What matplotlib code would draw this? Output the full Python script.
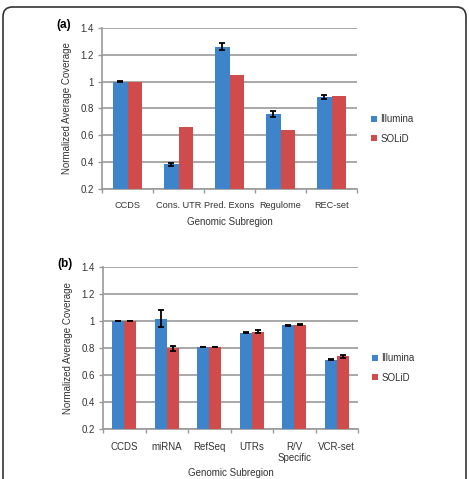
import matplotlib
matplotlib.use("Agg")
import matplotlib.pyplot as plt
import numpy as np
from matplotlib.patches import FancyBboxPatch

plt.rcParams['font.family'] = ['Liberation Sans', 'DejaVu Sans']

# Panel (a)
cats_a = ["CCDS", "Cons. UTR", "Pred. Exons", "Regulome", "REC-set"]
illumina_a = [1.0, 0.383, 1.262, 0.758, 0.883]
illumina_a_err = [0.004, 0.008, 0.027, 0.022, 0.014]
solid_a = [1.0, 0.665, 1.052, 0.640, 0.893]

# Panel (b)
cats_b = ["CCDS", "miRNA", "RefSeq", "UTRs", "R/V\nSpecific", "VCR-set"]
illumina_b = [1.0, 1.018, 0.808, 0.912, 0.967, 0.714]
illumina_b_err = [0.003, 0.063, 0.003, 0.004, 0.004, 0.003]
solid_b = [1.0, 0.798, 0.806, 0.922, 0.974, 0.739]
solid_b_err = [0.002, 0.020, 0.002, 0.008, 0.005, 0.010]

yticks = [0.2, 0.4, 0.6, 0.8, 1.0, 1.2, 1.4]
ytick_labels = ["0.2", "0.4", "0.6", "0.8", "1", "1.2", "1.4"]

BLUE = "#3E84CB"
RED = "#D04B4B"
GRID = "#9a9a9a"
TXT = "#333333"

fig = plt.figure(figsize=(4.69, 4.79), dpi=100)

def draw(ax, cats, ill, ill_err, sol, sol_err, label, leg_y, xfs):
    x = np.arange(len(cats))
    w = 0.28
    ax.bar(x - w/2, np.array(ill) - 0.2, w, bottom=0.2, color=BLUE, zorder=3, label="Illumina")
    ax.bar(x + w/2, np.array(sol) - 0.2, w, bottom=0.2, color=RED, zorder=3, label="SOLiD")
    ax.errorbar(x - w/2, ill, yerr=ill_err, fmt='none', ecolor='black', elinewidth=1.3,
                capsize=2.5, capthick=1.3, zorder=4)
    if sol_err is not None:
        ax.errorbar(x + w/2, sol, yerr=sol_err, fmt='none', ecolor='black', elinewidth=1.3,
                    capsize=2.5, capthick=1.3, zorder=4)
    ax.set_xlim(-0.5, len(cats) - 0.5)
    ax.set_ylim(0.2, 1.4)
    ax.set_yticks(yticks)
    ax.set_yticklabels(ytick_labels)
    ax.set_xticks(x)
    ax.set_xticklabels(cats, fontsize=xfs, color=TXT, linespacing=1.15)
    ax.set_xticks(np.arange(len(cats) + 1) - 0.5, minor=True)
    ax.tick_params(axis='x', which='major', length=0, pad=9)
    ax.tick_params(axis='x', which='minor', length=3, color=GRID, width=1)
    ax.tick_params(axis='y', length=3, color=GRID, width=1, labelsize=7, labelcolor=TXT, pad=3)
    ax.yaxis.grid(True, color=GRID, linewidth=1.2, zorder=0)
    ax.set_axisbelow(True)
    for s in ['top', 'right']:
        ax.spines[s].set_visible(False)
    for s in ['left', 'bottom']:
        ax.spines[s].set_color(GRID)
        ax.spines[s].set_linewidth(1.2)
    ax.set_ylabel("Normalized Average Coverage", fontsize=7, color=TXT, labelpad=6)
    ax.set_xlabel("Genomic Subregion", fontsize=7, color=TXT, labelpad=4)
    ax.legend(loc='center left', bbox_to_anchor=(1.02, leg_y), frameon=False,
              fontsize=7, handlelength=0.6, handleheight=0.6, handletextpad=0.4,
              labelspacing=1.0, labelcolor=TXT)
    ax.text(-0.12, 1.02, label, transform=ax.transAxes, fontsize=8.5, fontweight='bold',
            ha='right', va='center', color='black')

ax1 = fig.add_axes([102/469, 1 - 189/479, 255/469, 161/479])
draw(ax1, cats_a, illumina_a, illumina_a_err, solid_a, None, "(a)", 0.373, 6.6)
ax1.xaxis.labelpad = 5

ax2 = fig.add_axes([103/469, 1 - 429/479, 255/469, 162/479])
draw(ax2, cats_b, illumina_b, illumina_b_err, solid_b, solid_b_err, "(b)", 0.377, 7)
ax2.xaxis.labelpad = 4

border = FancyBboxPatch((3/469, -0.05), 463/469, 1 - 7/479 + 0.05,
                        boxstyle="round,pad=0,rounding_size=0.02",
                        transform=fig.transFigure, fill=False,
                        edgecolor="#333333", linewidth=1.2)
fig.patches.append(border)

fig.savefig("out.png", dpi=100)
